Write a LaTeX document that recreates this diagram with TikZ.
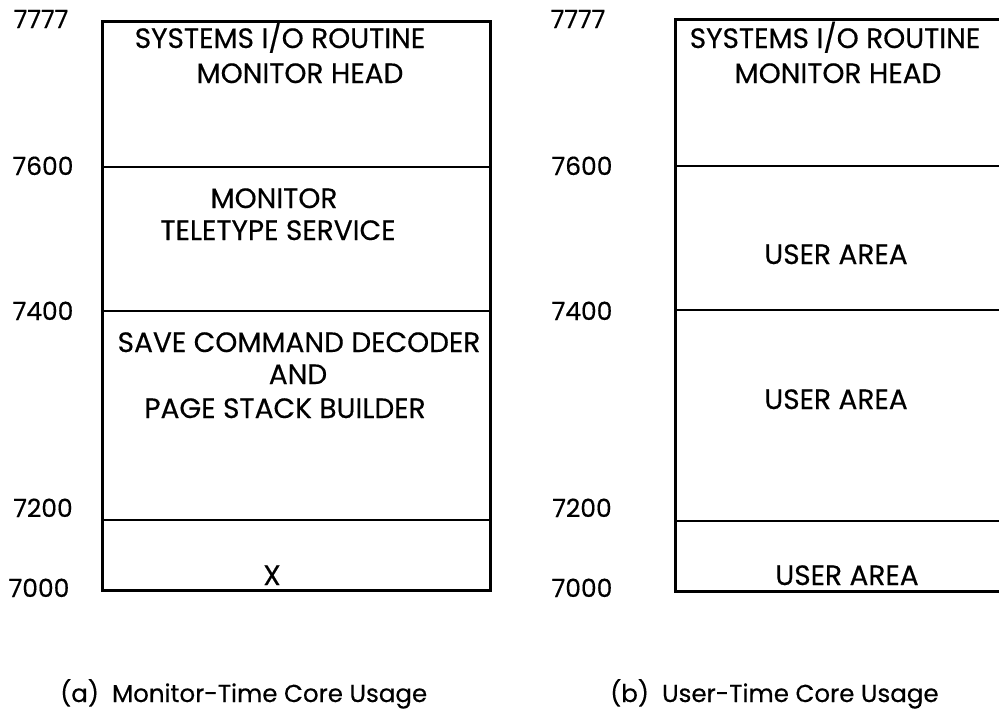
\documentclass[tikz,border=0pt]{standalone}
\usepackage{fontspec}
\setmainfont{Poppins}[FakeBold=0.4]
\begin{document}
\begin{tikzpicture}[x=1pt,y=-1pt,
  box/.style={line width=3pt, line cap=rect},
  sep/.style={line width=2.8pt},
  lbl/.style={anchor=base, inner sep=0pt, font=\fontsize{28}{28}\selectfont},
  addr/.style={anchor=base, inner sep=0pt, font=\fontsize{25}{25}\selectfont},
  captext/.style={anchor=base west, inner sep=0pt, font=\fontsize{24.5}{24.5}\selectfont}]
\useasboundingbox (0,0) rectangle (999,721);
% left box
\coordinate (ltl) at (102,21);
\coordinate (lbr) at (490,590);
\draw[box] (ltl) rectangle (lbr);
\draw[sep] (102,167) -- (490,167);
\draw[sep] (102,311) -- (490,311);
\draw[sep] (102,520) -- (490,520);
% right box
\draw[box] (1010,19) -- (675,19) -- (675,591) -- (1010,591);
\draw[sep] (675,166) -- (1010,166);
\draw[sep] (675,310) -- (1010,310);
\draw[sep] (675,521) -- (1010,521);
% left addresses
\node[addr] (a1) at (41,28) {7777};
\node[addr] (a2) at (43,175) {7600};
\node[addr] (a3) at (43,320) {7400};
\node[addr] (a4) at (43,517) {7200};
\node[addr] (a5) at (39,597) {7000};
% right addresses
\node[addr] (b1) at (578,28) {7777};
\node[addr] (b2) at (582,175) {7600};
\node[addr] (b3) at (582,320) {7400};
\node[addr] (b4) at (582,517) {7200};
\node[addr] (b5) at (582,597) {7000};
% left texts
\node[lbl] (t1) at (280,48) {SYSTEMS I/O ROUTINE};
\node[lbl] (t2) at (300,83) {MONITOR HEAD};
\node[lbl] (t3) at (274,208) {MONITOR};
\node[lbl] (t4) at (278,240) {TELETYPE SERVICE};
\node[lbl] (t5) at (299,352) {SAVE COMMAND DECODER};
\node[lbl] (t6) at (298,384) {AND};
\node[lbl] (t7) at (285,418) {PAGE STACK BUILDER};
\node[lbl] (t8) at (272,585) {X};
% right texts
\node[lbl] (r1) at (835,48) {SYSTEMS I/O ROUTINE};
\node[lbl] (r2) at (838,83) {MONITOR HEAD};
\node[lbl] (r3) at (836,264) {USER AREA};
\node[lbl] (r4) at (836,409) {USER AREA};
\node[lbl] (r5) at (847,585) {USER AREA};
% captions
\node[captext] (c1) at (60,702) {(a)\ \ Monitor-Time Core Usage};
\node[captext] (c2) at (610,702) {(b)\ \ User-Time Core Usage};
\end{tikzpicture}
\end{document}
